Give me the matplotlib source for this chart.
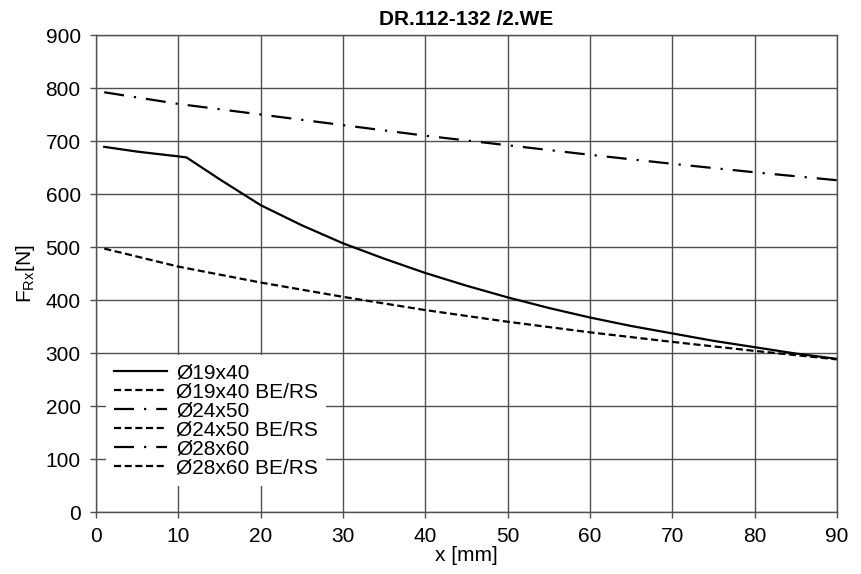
import matplotlib
matplotlib.use('Agg')
import matplotlib.pyplot as plt
from matplotlib.lines import Line2D

plt.rcParams['font.family'] = ['Liberation Sans', 'DejaVu Sans']
plt.rcParams['mathtext.fontset'] = 'custom'
plt.rcParams['mathtext.rm'] = 'Liberation Sans'

# radial force vs. load position, shaft variants
x_pos = [1, 5, 10, 11, 15, 20, 25, 30, 35, 40, 45, 50, 55, 60, 65, 70, 75, 80, 85, 90]
f_19x40 = [689, 680, 671, 669, 628, 579, 541, 507, 478, 451, 427, 405, 385, 367,
           351, 337, 323, 311, 299, 289]

x_pos_be = [1, 10, 20, 30, 40, 50, 60, 70, 80, 90]
f_19x40_be = [497, 463, 433, 406, 381, 359, 339, 321, 304, 288]

x_pos_24 = [1, 10, 20, 30, 40, 50, 60, 70, 80, 90]
f_24x50 = [792, 770, 750, 730, 710, 692, 674, 657, 641, 626]

legend_labels = ['Ø19x40', 'Ø19x40 BE/RS', 'Ø24x50', 'Ø24x50 BE/RS',
                 'Ø28x60', 'Ø28x60 BE/RS']

solid = '-'
dashed = (0, (3.2, 1.6))
dashdot = (0, (9, 4.5, 1, 4.5))

fig = plt.figure(figsize=(8.61, 5.74), dpi=100)
ax = fig.add_axes([0.1115, 0.108, 0.8605, 0.831])

ax.plot(x_pos, f_19x40, color='black', linewidth=1.6, linestyle=solid)
ax.plot(x_pos_be, f_19x40_be, color='black', linewidth=1.6, linestyle=dashed)
ax.plot(x_pos_24, f_24x50, color='black', linewidth=1.6, linestyle=dashdot)

ax.set_xlim(0, 90)
ax.set_ylim(0, 900)
ax.set_xticks(range(0, 91, 10))
ax.set_yticks(range(0, 901, 100))
ax.grid(True, color='#505050', linewidth=1.0)
ax.set_axisbelow(True)
for sp in ax.spines.values():
    sp.set_color('#505050')
    sp.set_linewidth(1.0)
ax.tick_params(direction='out', length=4, width=1, color='#505050',
               labelsize=15, pad=7)

ax.set_xlabel('x [mm]', fontsize=15, labelpad=0)
ax.set_ylabel(r'F$_{\mathrm{Rx}}$[N]', fontsize=15, labelpad=6)
ax.set_title('DR.112-132 /2.WE', fontsize=15, fontweight='bold', pad=7)

styles = [solid, dashed, dashdot, dashed, dashdot, dashed]
handles = [Line2D([], [], color='black', linewidth=1.6, linestyle=s)
           for s in styles]
leg = ax.legend(handles, legend_labels, loc='upper left',
                bbox_to_anchor=(0.0135, 0.329), borderaxespad=0,
                fontsize=15, handlelength=2.55, handletextpad=0.4,
                labelspacing=0.0, borderpad=0.4, fancybox=False,
                framealpha=1.0)
leg.get_frame().set_edgecolor('none')
leg.get_frame().set_facecolor('white')

fig.savefig('out.png', dpi=100)
